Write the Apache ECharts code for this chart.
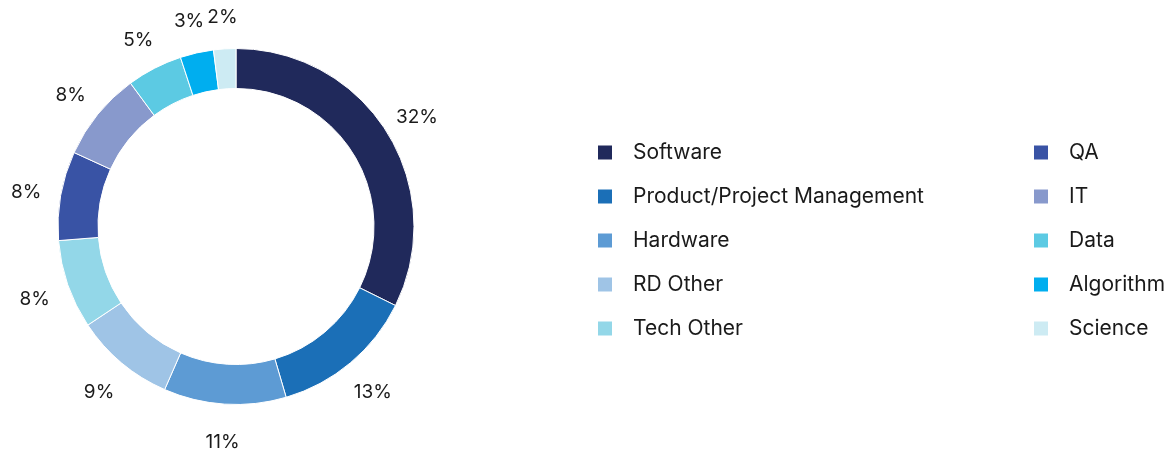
<!DOCTYPE html>
<html>
<head>
<meta charset="utf-8">
<script src="https://cdn.jsdelivr.net/npm/echarts@6/dist/echarts.min.js"></script>
<style>
  html, body { margin: 0; padding: 0; background: #fff; }
  #chart { width: 1173px; height: 451px; }
</style>
</head>
<body>
<div id="chart"></div>
<script>
// share of roles, in percent
const categories = [
  'Software', 'Product/Project Management', 'Hardware', 'RD Other', 'Tech Other',
  'QA', 'IT', 'Data', 'Algorithm', 'Science'
]
const values = [32, 13, 11, 9, 8, 8, 8, 5, 3, 2]

const COLORS = [
  '#20295b', // software
  '#1b6fb7',
  '#5d9bd4',
  '#9fc4e6',
  '#93d7e8',
  '#3953a5',
  '#8899cc',
  '#5ccae3',
  '#00aeef',
  '#cdebf3'
]

const FONT = 'Inter'

const seriesData = categories.map((name, i) => ({
  name: name,
  value: values[i],
  itemStyle: { color: COLORS[i] }
}))

const legendBase = {
  orient: 'vertical',
  icon: 'rect',
  itemWidth: 16,
  itemHeight: 16,
  itemGap: 23,
  top: 137,
  textStyle: {
    fontFamily: FONT,
    fontSize: 21,
    color: '#1a1a1a',
    padding: [0, 0, 0, 15]
  }
}

const chart = echarts.init(document.getElementById('chart'))

const option = {
  animation: false,
  legend: [
    Object.assign({}, legendBase, { left: 591, data: categories.slice(0, 5) }),
    Object.assign({}, legendBase, { left: 1027, data: categories.slice(5) })
  ],
  series: [
    {
      name: 'Roles',
      type: 'pie',
      center: [236, 226.5],
      radius: [138, 178],
      startAngle: 90,
      clockwise: true,
      itemStyle: { borderColor: '#fff', borderWidth: 1 },
      label: { show: false },
      labelLine: { show: false },
      data: seriesData
    },
    {
      // transparent ring that only carries the percentage labels
      name: 'Labels',
      type: 'pie',
      silent: true,
      center: [236, 226.5],
      radius: [200, 220],
      startAngle: 90,
      clockwise: true,
      itemStyle: { color: 'transparent' },
      label: {
        show: true,
        position: 'inside',
        offset: [0, 3],
        fontFamily: FONT,
        fontSize: 19,
        color: '#1a1a1a',
        formatter: (p) => p.value + '%'
      },
      labelLine: { show: false },
      data: categories.map((name, i) => ({ name: name, value: values[i] }))
    }
  ]
}

chart.setOption(option)
</script>
</body>
</html>
